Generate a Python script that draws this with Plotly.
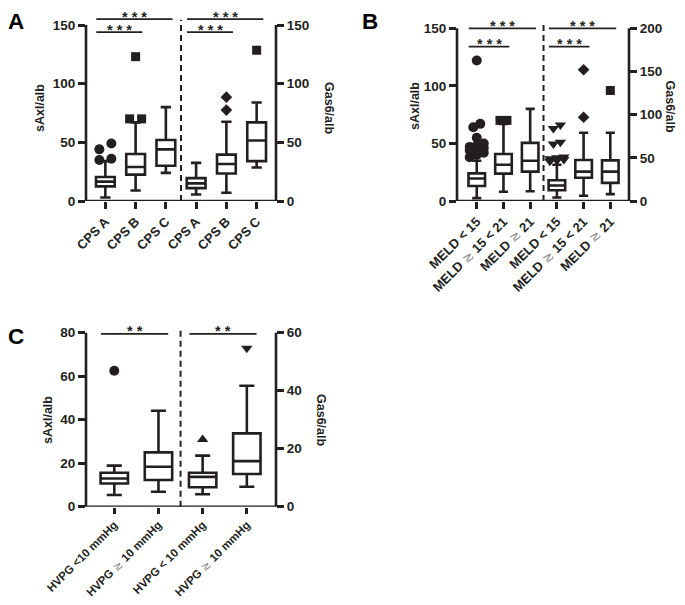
import plotly.graph_objects as go

# the page body has an 8 px margin, so the figure is drawn 8 px in from the window corner;
# keep the figure inside the window so no scrollbars appear
OFF = 8
W, H = 685 - 2 * OFF, 605 - 2 * OFF
FONT = "Liberation Sans, Arial, sans-serif"
INK = "#231f20"

# ---------------- data ----------------
A_left_cats = ["CPS A", "CPS B", "CPS C"]
A_right_cats = ["CPS A", "CPS B", "CPS C"]
A_sAxl_low = [3, 9, 24]
A_sAxl_q1 = [12.5, 22.5, 30]
A_sAxl_med = [16.5, 29, 44]
A_sAxl_q3 = [20.5, 40, 52]
A_sAxl_high = [34, 67, 80]
A_sAxl_out = [[35, 36, 44, 49], [70, 70, 123], []]
A_gas6_low = [5.5, 7, 28.5]
A_gas6_q1 = [11, 23.5, 34]
A_gas6_med = [15, 31.5, 51.5]
A_gas6_q3 = [19.5, 39.5, 67]
A_gas6_high = [32.5, 67.5, 84]
A_gas6_out = [[], [77.5, 88.5], [128.5]]

B_left_cats = ["MELD < 15", "MELD ≥ 15 < 21", "MELD ≥ 21"]
B_right_cats = ["MELD < 15", "MELD ≥ 15 < 21", "MELD ≥ 21"]
B_sAxl_low = [2.5, 8, 8.5]
B_sAxl_q1 = [13, 23.8, 25.5]
B_sAxl_med = [19.5, 31.5, 35]
B_sAxl_q3 = [24, 40.8, 50.5]
B_sAxl_high = [35, 67, 80]
B_sAxl_out = [[38, 40, 42, 44, 45, 46, 47, 48, 50, 55, 64, 67, 122], [70, 70], []]
B_gas6_low = [4, 6, 8]
B_gas6_q1 = [12.5, 27, 21]
B_gas6_med = [18, 34, 34]
B_gas6_q3 = [24, 47.5, 47]
B_gas6_high = [42, 79, 79]
B_gas6_out = [[46, 47, 48, 49, 50, 51, 66, 68, 84, 88], [97, 152], [128]]

C_left_cats = ["HVPG <10 mmHg", "HVPG ≥ 10 mmHg"]
C_right_cats = ["HVPG < 10 mmHg", "HVPG ≥ 10 mmHg"]
C_sAxl_low = [5.4, 6.9]
C_sAxl_q1 = [10.7, 12.3]
C_sAxl_med = [13, 18.4]
C_sAxl_q3 = [15.6, 25]
C_sAxl_high = [18.9, 44.1]
C_sAxl_out = [[62.5], []]
C_gas6_low = [4.3, 6.9]
C_gas6_q1 = [6.7, 11.3]
C_gas6_med = [10.3, 15.7]
C_gas6_q3 = [11.7, 25.3]
C_gas6_high = [17.6, 41.7]
C_gas6_out = [[23.2], [54.6]]

# significance comparisons: (first group, last group, level in left-axis units, label)
A_sig = [(0, 2, 155, "* * *"), (0, 1, 144, "* * *"), (3, 5, 155, "* * *"), (3, 4, 144, "* * *")]
B_sig = [(0, 2, 150, "* * *"), (0, 1, 134, "* * *"), (3, 5, 150, "* * *"), (3, 4, 134, "* * *")]
C_sig = [(0, 1, 79.5, "* *"), (2, 3, 79.5, "* *")]

A_symbols = (["circle", "square", "square"], ["circle", "diamond", "square"])
B_symbols = (["circle", "square", "square"], ["triangle-down", "diamond", "square"])
C_symbols = (["circle", "circle"], ["triangle-up", "triangle-down"])

MSIZE = {"circle": 10, "square": 9, "diamond": 9, "triangle-down": 10, "triangle-up": 10}

# ---------------- layout geometry (window pixels) ----------------
panels = [
    dict(key="A", xl=86, xr=276, y0=201, ytop=25, dtop=8, lmax=150, rmax=150, ldt=50, rdt=50,
         xr_range=(-0.64, 5.64), letter=(7, 8), ltitle=(40, 108), rtitle=(329, 108), step=12,
         xfont=13, xtl=7, left=(A_left_cats, A_sAxl_low, A_sAxl_q1, A_sAxl_med, A_sAxl_q3, A_sAxl_high, A_sAxl_out),
         right=(A_right_cats, A_gas6_low, A_gas6_q1, A_gas6_med, A_gas6_q3, A_gas6_high, A_gas6_out),
         sig=A_sig, sym=A_symbols),
    dict(key="B", xl=457, xr=629, y0=201, ytop=28.3, dtop=10, lmax=150, rmax=200, ldt=50, rdt=50,
         xr_range=(-0.74, 5.70), letter=(361, 8), ltitle=(415, 106), rtitle=(669.5, 106), step=7,
         xfont=13, xtl=7, left=(B_left_cats, B_sAxl_low, B_sAxl_q1, B_sAxl_med, B_sAxl_q3, B_sAxl_high, B_sAxl_out),
         right=(B_right_cats, B_gas6_low, B_gas6_q1, B_gas6_med, B_gas6_q3, B_gas6_high, B_gas6_out),
         sig=B_sig, sym=B_symbols),
    dict(key="C", xl=86, xr=276, y0=506.7, ytop=332.7, dtop=318, lmax=80, rmax=60, ldt=20, rdt=20,
         xr_range=(-0.64, 3.66), letter=(7, 323), ltitle=(48, 420), rtitle=(321, 420), step=12,
         xfont=11.5, xtl=6, left=(C_left_cats, C_sAxl_low, C_sAxl_q1, C_sAxl_med, C_sAxl_q3, C_sAxl_high, C_sAxl_out),
         right=(C_right_cats, C_gas6_low, C_gas6_q1, C_gas6_med, C_gas6_q3, C_gas6_high, C_gas6_out),
         sig=C_sig, sym=C_symbols),
]


def px_x(sx):
    return (sx - OFF) / W


def px_y(sy):
    return 1 - (sy - OFF) / H


def fmt_label(s):
    return s.replace("≥", "<span style='color:#8a8a8a;font-weight:normal'>≳</span>")


def swarm(vals, ppu_y, ppu_x, step_px=12.0, thresh_px=8.0):
    vs = sorted(vals)
    clusters = []
    for v in vs:
        if clusters and (v - clusters[-1][-1]) * ppu_y < thresh_px:
            clusters[-1].append(v)
        else:
            clusters.append([v])
    xs, ys = [], []
    for c in clusters:
        for k in range(0, len(c), 3):
            row = c[k:k + 3]
            n = len(row)
            for m, v in enumerate(row):
                xs.append((m - (n - 1) / 2) * step_px / ppu_x)
                ys.append(v)
    return xs, ys


fig = go.Figure()
shapes, annotations = [], []
lay = {}
LW = 2.6

for pi, p in enumerate(panels):
    xa = "x" if pi == 0 else f"x{pi + 1}"
    ya_l = "y" if pi == 0 else f"y{2 * pi + 1}"
    ya_r = f"y{2 * pi + 2}"
    xa_key = "xaxis" if pi == 0 else f"xaxis{pi + 1}"
    yl_key = "yaxis" if pi == 0 else f"yaxis{2 * pi + 1}"
    yr_key = f"yaxis{2 * pi + 2}"

    ppu_l = (p["y0"] - p["ytop"]) / p["lmax"]
    ppu_r = (p["y0"] - p["ytop"]) / p["rmax"]
    ltop = (p["y0"] - p["dtop"]) / ppu_l
    rtop = (p["y0"] - p["dtop"]) / ppu_r
    ppu_x = (p["xr"] - p["xl"]) / (p["xr_range"][1] - p["xr_range"][0])

    ydom = [px_y(p["y0"]), px_y(p["dtop"])]
    xdom = [px_x(p["xl"]), px_x(p["xr"])]

    lcats = p["left"][0]
    rcats = p["right"][0]
    n_l = len(lcats)
    all_cats = list(lcats) + list(rcats)
    positions = list(range(len(all_cats)))

    for side, ya, ppu, syms in ((p["left"], ya_l, ppu_l, p["sym"][0]), (p["right"], ya_r, ppu_r, p["sym"][1])):
        cats, low, q1, med, q3, high, outs = side
        off = 0 if ya == ya_l else n_l
        xpos = [off + i for i in range(len(cats))]
        fig.add_trace(go.Box(
            x=xpos, q1=q1, median=med, q3=q3, lowerfence=low, upperfence=high,
            xaxis=xa, yaxis=ya, boxpoints=False, width=0.62, whiskerwidth=0.55,
            fillcolor="white", line=dict(color=INK, width=LW), showlegend=False, hoverinfo="skip"))
        for i, o in enumerate(outs):
            if not o:
                continue
            dx, vy = swarm(o, ppu, ppu_x, step_px=p["step"])
            fig.add_trace(go.Scatter(
                x=[xpos[i] + d for d in dx], y=vy, mode="markers", xaxis=xa, yaxis=ya,
                marker=dict(symbol=syms[i], size=MSIZE[syms[i]], color=INK, line=dict(width=0)),
                showlegend=False, hoverinfo="skip", cliponaxis=False))

    xtickfont = dict(family=FONT, size=p["xfont"], color=INK, weight="bold")
    ytickfont = dict(family=FONT, size=13.5, color=INK, weight="bold")
    common = dict(ticks="outside", tickwidth=LW, tickcolor=INK, automargin=False,
                  showline=False, showgrid=False, zeroline=False)
    lay[xa_key] = dict(domain=xdom, range=list(p["xr_range"]), anchor=ya_l, type="linear",
                       tickvals=positions, ticktext=[fmt_label(c) for c in all_cats], tickangle=-45,
                       ticklen=p["xtl"], tickfont=xtickfont, **common)
    lay[yl_key] = dict(domain=ydom, range=[0, ltop], anchor=xa, dtick=p["ldt"], tick0=0,
                       ticklen=7, tickfont=ytickfont, **common)
    lay[yr_key] = dict(domain=ydom, range=[0, rtop], anchor=xa, overlaying=ya_l, side="right",
                       dtick=p["rdt"], tick0=0, ticklen=7, tickfont=ytickfont, **common)

    # axis spines
    shapes.append(dict(type="line", xref=f"{xa} domain", yref=ya_l, x0=0, x1=0, y0=0, y1=p["lmax"],
                       line=dict(color=INK, width=LW)))
    shapes.append(dict(type="line", xref=f"{xa} domain", yref=ya_l, x0=1, x1=1, y0=0, y1=p["lmax"],
                       line=dict(color=INK, width=LW)))
    shapes.append(dict(type="line", xref=f"{xa} domain", yref=ya_l, x0=0, x1=1, y0=0, y1=0,
                       line=dict(color=INK, width=LW)))
    # dashed divider
    shapes.append(dict(type="line", xref=xa, yref=ya_l, x0=n_l - 0.5, x1=n_l - 0.5, y0=0,
                       y1=p["lmax"] * 1.03, line=dict(color=INK, width=2, dash="6px,4px")))
    # significance bars
    for (i, j, lev, lab) in p["sig"]:
        x0, x1 = i - 0.3, j + 0.22
        shapes.append(dict(type="line", xref=xa, yref=ya_l, x0=x0, x1=x1, y0=lev, y1=lev,
                           line=dict(color=INK, width=1.8)))
        annotations.append(dict(x=(x0 + x1) / 2, y=lev, xref=xa, yref=ya_l, text=lab, showarrow=False,
                                yanchor="middle", yshift=2.3, borderpad=0,
                                font=dict(family=FONT, size=14.5, color=INK, weight="bold")))

    # panel letter and axis titles
    annotations.append(dict(x=px_x(p["letter"][0]), y=px_y(p["letter"][1]), xref="paper", yref="paper",
                            text=p["key"], showarrow=False, xanchor="left", yanchor="top", borderpad=0,
                            font=dict(family=FONT, size=22.5, color="black", weight="bold")))
    annotations.append(dict(x=px_x(p["ltitle"][0]), y=px_y(p["ltitle"][1]), xref="paper", yref="paper",
                            text="sAxl/alb", showarrow=False, textangle=-90, xanchor="center", yanchor="middle",
                            font=dict(family=FONT, size=12.5, color=INK, weight="bold")))
    annotations.append(dict(x=px_x(p["rtitle"][0]), y=px_y(p["rtitle"][1]), xref="paper", yref="paper",
                            text="Gas6/alb", showarrow=False, textangle=90, xanchor="center", yanchor="middle",
                            font=dict(family=FONT, size=12.5, color=INK, weight="bold")))

fig.update_layout(
    template="none",
    width=W, height=H, autosize=False,
    margin=dict(l=0, r=0, t=0, b=0, autoexpand=False),
    paper_bgcolor="white", plot_bgcolor="white",
    showlegend=False, shapes=shapes, annotations=annotations,
    font=dict(family=FONT, color=INK),
    **lay,
)

fig.write_html("out.html")
